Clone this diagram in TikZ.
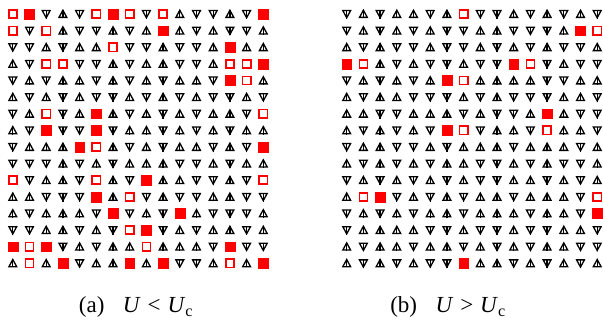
\documentclass[tikz,border=0pt]{standalone}
\usepackage{fontspec}
\setmainfont{Liberation Serif}
\newcommand\mycellU{\draw[symline] (-3.9,3.4) -- (3.9,3.4) -- (0,-3.8) -- cycle; \draw[symline] (0,4.2) -- (0,-3.8);}
\newcommand\mycellD{\draw[symline] (-3.9,-3.4) -- (3.9,-3.4) -- (0,3.8) -- cycle; \draw[symline] (0,-3.4) -- (0,4.8);}
\newcommand\mycellF{\fill[sqred] (-4.9,-4.9) rectangle (4.9,4.9);}
\newcommand\mycellO{\draw[sqred,line width=1.6pt,fill=white] (-4.1,-4.1) rectangle (4.1,4.1);}
\begin{document}
\begin{tikzpicture}[x=1pt,y=-1pt,
  symline/.style={draw=black,line width=1.3pt,line join=miter},
  sqred/.style={draw=red,fill=red},
  captxt/.style={anchor=base,font=\fontsize{23}{27}\selectfont,inner sep=0pt}]
\useasboundingbox (0,0) rectangle (603,323);
% left grid: U < Uc
\foreach \rowdata [count=\r from 0] in {
{O,F,D,U,D,O,F,O,D,O,U,D,D,U,D,F},
{O,D,O,U,D,D,U,D,U,F,U,D,U,D,D,U},
{D,D,U,D,U,U,O,D,D,U,D,D,U,F,U,U},
{U,D,O,O,D,D,U,D,U,U,D,D,U,O,O,F},
{D,U,D,U,U,D,U,D,U,D,U,U,D,F,O,U},
{U,D,U,D,U,D,D,U,D,U,D,U,D,D,U,D},
{D,U,O,D,U,F,U,D,U,D,U,D,U,U,D,O},
{U,D,F,D,D,F,D,U,U,D,U,D,U,D,U,U},
{D,U,U,U,F,O,U,D,U,D,U,U,D,U,D,F},
{D,D,D,U,D,U,D,U,U,U,D,D,U,D,U,U},
{O,D,U,U,D,O,U,D,F,U,U,D,D,U,D,O},
{U,U,D,D,D,F,U,O,D,U,D,D,U,U,D,D},
{U,D,U,U,U,D,F,D,U,D,F,U,D,D,D,U},
{D,D,U,U,D,U,D,O,F,D,U,D,U,U,D,U},
{F,O,F,D,U,D,U,U,O,U,U,U,D,F,D,D},
{U,O,U,F,D,U,U,F,U,F,D,D,U,O,U,F}}{
  \foreach \c [count=\k from 0] in \rowdata {
    \begin{scope}[shift={(12.8+16.7*\k,14+16.62*\r)}]
      \csname mycell\c\endcsname
    \end{scope}
  }
}
% right grid: U > Uc
\foreach \rowdata [count=\r from 0] in {
{D,U,D,U,U,D,U,O,D,D,U,D,U,D,U,D},
{D,U,D,U,D,U,D,D,U,U,D,D,D,U,F,O},
{U,D,U,D,D,U,D,D,U,D,U,D,U,D,D,U},
{F,O,U,D,U,D,D,U,D,D,F,O,D,U,D,D},
{D,U,D,U,D,U,F,O,U,U,U,U,D,D,U,U},
{U,D,U,U,D,D,D,U,D,U,D,D,D,U,U,D},
{U,U,D,D,U,U,U,D,U,D,D,U,F,U,D,D},
{U,D,U,D,U,D,F,O,D,U,U,D,O,U,U,D},
{D,U,U,D,D,U,D,U,U,U,D,U,U,U,D,U},
{U,D,U,D,U,D,U,U,D,D,U,D,U,D,D,U},
{D,U,D,U,D,U,D,U,D,D,U,U,D,U,D,U},
{U,O,F,D,U,D,U,D,U,U,D,U,U,U,D,O},
{D,U,D,U,D,U,U,D,U,U,U,D,U,U,D,F},
{D,U,U,U,U,D,D,U,D,D,U,D,D,U,U,D},
{U,D,U,U,D,U,U,D,U,D,U,D,U,U,D,D},
{U,D,U,D,U,D,D,F,U,U,D,U,D,U,D,U}}{
  \foreach \c [count=\k from 0] in \rowdata {
    \begin{scope}[shift={(346.7+16.7*\k,14+16.62*\r)}]
      \csname mycell\c\endcsname
    \end{scope}
  }
}
\node[captxt] (capa) at (136,313) {(a)\hspace{0.8em}\textit{U}\hspace{0.3em}<\hspace{0.3em}\textit{U}\textsubscript{c}};
\node[captxt] (capb) at (448,313) {(b)\hspace{0.8em}\textit{U}\hspace{0.3em}>\hspace{0.3em}\textit{U}\textsubscript{c}};
\end{tikzpicture}
\end{document}
